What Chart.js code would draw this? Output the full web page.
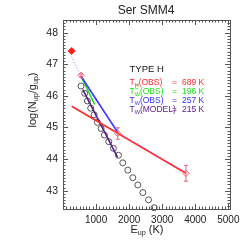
<!DOCTYPE html>
<html><head><meta charset="utf-8">
<script src="https://cdn.jsdelivr.net/npm/chart.js@4.4.1/dist/chart.umd.min.js"></script>
<style>html,body{margin:0;padding:0;background:#fff;}#wrap{width:249px;height:249px;}</style>
</head><body><div id="wrap"><canvas id="c" width="249" height="249"></canvas></div>
<script>
// ---- data ----
const eupModel = [545, 657, 737, 838, 939, 1040, 1152, 1252, 1384, 1525, 1677, 1808, 1960, 2111, 2263, 2414, 2586, 2758];
const logModel = [46.31, 46.08, 45.84, 45.61, 45.40, 45.16, 44.97, 44.76, 44.55, 44.34, 44.12, 43.88, 43.65, 43.41, 43.18, 42.94, 42.71, 42.46];
const eupObs = [263, 545, 1657, 3718];
const logObs = [47.42, 46.65, 44.81, 43.55];
const errObs = [0.04, 0.04, 0.18, 0.25];
const hotFitX = [263, 3718], hotFitY = [45.67, 43.55];
const warmCFitX = [545, 960], warmCFitY = [46.62, 45.72];
const warmFitX = [545, 1657], warmFitY = [46.62, 44.84];
const modelFitX = [600, 1650], modelFitY = [46.20, 44.05];
const sumCurveX = [263, 545, 1000, 1657, 2500, 3718];
const sumCurveY = [47.24, 46.64, 45.92, 44.90, 44.33, 43.58];
const xTicks = [1000, 2000, 3000, 4000, 5000];
const yTicks = [43, 44, 45, 46, 47, 48];
const legendRows = [
  {name: 'H', sup: '', label: '(OBS)', value: '689 K', color: '#ff2a2a'},
  {name: 'W', sup: 'C', label: '(OBS)', value: '196 K', color: '#22e022'},
  {name: 'W', sup: '', label: '(OBS)', value: '257 K', color: '#3030ff'},
  {name: 'W', sup: '', label: '(MODEL)', value: '215 K', color: '#601c94'}
];

const pts = (xs, ys) => xs.map((x, i) => ({x: x, y: ys[i]}));
const FONT = '"Liberation Sans", Arial, sans-serif';

function drawRich(ctx, segs, x, y, size) {
  let cx = x;
  for (const s of segs) {
    if (s.t !== undefined) {
      ctx.font = size + 'px ' + FONT;
      ctx.fillText(s.t, cx, y);
      cx += ctx.measureText(s.t).width;
    } else {
      const ss = size * 0.65;
      ctx.font = ss + 'px ' + FONT;
      let w = 0;
      if (s.sub) { ctx.fillText(s.sub, cx, y + size * 0.3); w = Math.max(w, ctx.measureText(s.sub).width); }
      if (s.sup) { ctx.fillText(s.sup, cx, y - size * 0.45); w = Math.max(w, ctx.measureText(s.sup).width); }
      cx += w;
    }
  }
  return cx - x;
}
function richWidth(ctx, segs, size) {
  let w = 0;
  for (const s of segs) {
    if (s.t !== undefined) { ctx.font = size + 'px ' + FONT; w += ctx.measureText(s.t).width; }
    else { ctx.font = (size * 0.65) + 'px ' + FONT; w += Math.max(s.sub ? ctx.measureText(s.sub).width : 0, s.sup ? ctx.measureText(s.sup).width : 0); }
  }
  return w;
}

const decor = {
  id: 'decor',
  afterDatasetsDraw(chart) {
    const ctx = chart.ctx, xs = chart.scales.x, ys = chart.scales.y;
    ctx.save();
    ctx.lineWidth = 1;
    eupObs.forEach((e, i) => {
      const px = xs.getPixelForValue(e);
      const p1 = ys.getPixelForValue(logObs[i] + errObs[i]);
      const p2 = ys.getPixelForValue(logObs[i] - errObs[i]);
      ctx.strokeStyle = i === 0 ? '#ff2020' : '#f06070';
      ctx.beginPath();
      ctx.moveTo(px, p1); ctx.lineTo(px, p2);
      ctx.moveTo(px - 2, p1); ctx.lineTo(px + 2, p1);
      ctx.moveTo(px - 2, p2); ctx.lineTo(px + 2, p2);
      ctx.stroke();
    });
    ctx.restore();
  },
  afterDraw(chart) {
    const ctx = chart.ctx, xs = chart.scales.x, ys = chart.scales.y, a = chart.chartArea;
    ctx.save();
    ctx.strokeStyle = '#555'; ctx.lineWidth = 1;
    ctx.strokeRect(Math.round(a.left) + 0.5, Math.round(a.top) + 0.5, Math.round(a.right - a.left), Math.round(a.bottom - a.top));
    ctx.beginPath();
    for (let v = 100; v < xs.max; v += 100) {
      const px = Math.round(xs.getPixelForValue(v)) + 0.5;
      const L = (v % 1000 === 0) ? 5 : 2.5;
      ctx.moveTo(px, a.bottom); ctx.lineTo(px, a.bottom - L);
      ctx.moveTo(px, a.top); ctx.lineTo(px, a.top + L);
    }
    for (let k = Math.ceil(ys.min * 10); k <= Math.floor(ys.max * 10); k++) {
      const py = Math.round(ys.getPixelForValue(k / 10)) + 0.5;
      const L = (k % 10 === 0) ? 5 : 2.5;
      ctx.moveTo(a.left, py); ctx.lineTo(a.left + L, py);
      ctx.moveTo(a.right, py); ctx.lineTo(a.right - L, py);
    }
    ctx.stroke();
    // title
    ctx.fillStyle = '#222'; ctx.textBaseline = 'middle'; ctx.textAlign = 'left';
    ctx.font = '12px ' + FONT;
    const title = 'Ser SMM4';
    ctx.fillText(title, 146 - ctx.measureText(title).width / 2, 10.5);
    // x title
    const xt = [{t: 'E'}, {sub: 'up'}, {t: ' (K)'}];
    const xw = richWidth(ctx, xt, 11);
    drawRich(ctx, xt, 147 - xw / 2, 230, 11);
    // y title
    const yt = [{t: 'log(N'}, {sub: 'up'}, {t: '/g'}, {sub: 'up'}, {t: ')'}];
    const yw = richWidth(ctx, yt, 11);
    ctx.save(); ctx.translate(33, 100); ctx.rotate(-Math.PI / 2);
    drawRich(ctx, yt, -yw / 2, 0, 11);
    ctx.restore();
    // legend text
    ctx.fillStyle = '#111';
    ctx.font = '9.5px ' + FONT;
    ctx.fillText('TYPE H', 129.5, 69);
    legendRows.forEach((r, i) => {
      const y = 82.5 + i * 9;
      ctx.fillStyle = r.color;
      drawRich(ctx, [{t: 'T'}, {sub: r.name, sup: r.sup}, {t: r.label}], 129.5, y, 8.5);
      ctx.font = '8.5px ' + FONT;
      ctx.fillText('=', 172, y);
      ctx.fillText(r.value, 182, y);
    });
    ctx.restore();
  }
};

new Chart(document.getElementById('c'), {
  type: 'scatter',
  data: {
    datasets: [
      {data: pts(eupObs.slice(0, 1), logObs.slice(0, 1)), pointStyle: 'rectRot', pointRadius: 3.5, backgroundColor: '#ff2020', borderColor: '#ff2020', borderWidth: 1},
      {data: pts(eupObs.slice(1), logObs.slice(1)), pointStyle: 'rectRot', pointRadius: 3.2, backgroundColor: 'rgba(0,0,0,0)', borderColor: '#f06070', borderWidth: 1},
      {data: pts(sumCurveX, sumCurveY), showLine: true, pointRadius: 0, borderColor: '#9a78e8', borderWidth: 1, borderDash: [1, 2], tension: 0.3},
      {data: pts(hotFitX, hotFitY), showLine: true, pointRadius: 0, borderColor: '#ff2a2a', borderWidth: 1.6},
      {data: pts(warmFitX, warmFitY), showLine: true, pointRadius: 0, borderColor: '#3030ff', borderWidth: 1.6},
      {data: pts(warmCFitX, warmCFitY), showLine: true, pointRadius: 0, borderColor: '#22e022', borderWidth: 1.6},
      {data: pts(modelFitX, modelFitY), showLine: true, pointRadius: 0, borderColor: '#5a1c8c', borderWidth: 1.6},
      {data: pts(eupModel, logModel), pointStyle: 'circle', pointRadius: 3, backgroundColor: 'rgba(0,0,0,0)', borderColor: '#444', borderWidth: 0.9, clip: false}
    ]
  },
  options: {
    responsive: false, animation: false, devicePixelRatio: 1,
    layout: {padding: {top: 20, right: 19, left: 0, bottom: 0}},
    plugins: {legend: {display: false}, tooltip: {enabled: false}, title: {display: false}},
    scales: {
      x: {type: 'linear', min: 0, max: 5050,
          afterFit: s => { s.height = 40; },
          afterBuildTicks: s => { s.ticks = xTicks.map(v => ({value: v})); },
          grid: {display: false, drawTicks: false}, border: {display: false},
          ticks: {padding: 5, color: '#222', font: {family: FONT, size: 10}, maxRotation: 0, autoSkip: false, callback: v => String(v)}},
      y: {type: 'linear', min: 42.42, max: 48.40,
          afterFit: s => { s.width = 63; },
          afterBuildTicks: s => { s.ticks = yTicks.map(v => ({value: v})); },
          grid: {display: false, drawTicks: false}, border: {display: false},
          ticks: {padding: 5, color: '#222', font: {family: FONT, size: 10.5}, autoSkip: false, callback: v => String(v)}}
    }
  },
  plugins: [decor]
});
</script></body></html>
